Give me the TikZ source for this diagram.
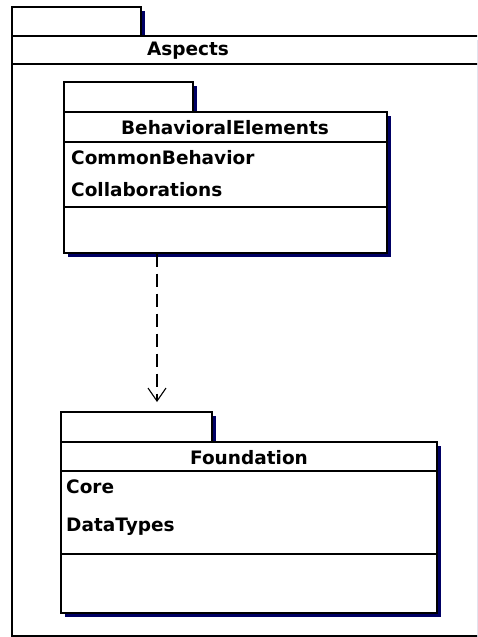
\documentclass[tikz,border=0pt]{standalone}
\usepackage{fontspec}
\setmainfont{DejaVu Sans}
\usetikzlibrary{arrows.meta,shadows}
\definecolor{shad}{RGB}{0,0,100}
\begin{document}
\begin{tikzpicture}[x=1pt,y=-1pt,
  pkg/.style={draw=black,fill=white,line width=1.3pt,rectangle,inner sep=0pt,
    drop shadow={shadow xshift=3.5pt,shadow yshift=-3.5pt,opacity=1,fill=shad}},
  sep/.style={draw=black,line width=1.3pt},
  lbl/.style={inner sep=0pt,font=\bfseries\fontsize{18.5}{21}\selectfont},
  dep/.style={line width=1.1pt,dash pattern=on 13pt off 7pt,-{Straight Barb[length=13pt,width=18pt,line width=1.1pt]}}]
\useasboundingbox (0,0) rectangle (477,637);
\fill[white] (0,0) rectangle (477,637);
\begin{scope}
\clip (0,0) rectangle (477,637);
% Aspects package
\node[pkg,minimum width=129pt,minimum height=29pt] (aspTab) at (76.5,21.5) {};
\node[pkg,minimum width=478pt,minimum height=600pt] (asp) at (251,336) {};
\coordinate (aspL) at (12,64);
\draw[sep] (aspL) -- (aspL -| asp.east);
\node[lbl] (aspT) at (188,51) {Aspects};
\end{scope}
% BehavioralElements package
\node[pkg,minimum width=129pt,minimum height=30pt] (beTab) at (128.5,97) {};
\node[pkg,minimum width=323pt,minimum height=141pt] (be) at (225.5,182.5) {};
\coordinate (beL1) at (64,142);
\coordinate (beL2) at (64,207);
\draw[sep] (beL1) -- (beL1 -| be.east);
\draw[sep] (beL2) -- (beL2 -| be.east);
\node[lbl] (beT) at (225,128) {BehavioralElements};
\node[lbl,anchor=west] (beA1) at (71,158) {CommonBehavior};
\node[lbl,anchor=west] (beA2) at (71,190) {Collaborations};
% Foundation package
\node[pkg,minimum width=151pt,minimum height=30pt] (fTab) at (136.5,427) {};
\node[pkg,minimum width=376pt,minimum height=171pt] (fd) at (249,527.5) {};
\coordinate (fL1) at (61,471);
\coordinate (fL2) at (61,554);
\draw[sep] (fL1) -- (fL1 -| fd.east);
\draw[sep] (fL2) -- (fL2 -| fd.east);
\node[lbl] (fT) at (249,458) {Foundation};
\node[lbl,anchor=west] (fA1) at (66,487) {Core};
\node[lbl,anchor=west] (fA2) at (66,527) {DataTypes};
% dependency
\coordinate (tip) at (157,402);
\draw[dep] (be.south -| tip) -- (tip);
\end{tikzpicture}
\end{document}
